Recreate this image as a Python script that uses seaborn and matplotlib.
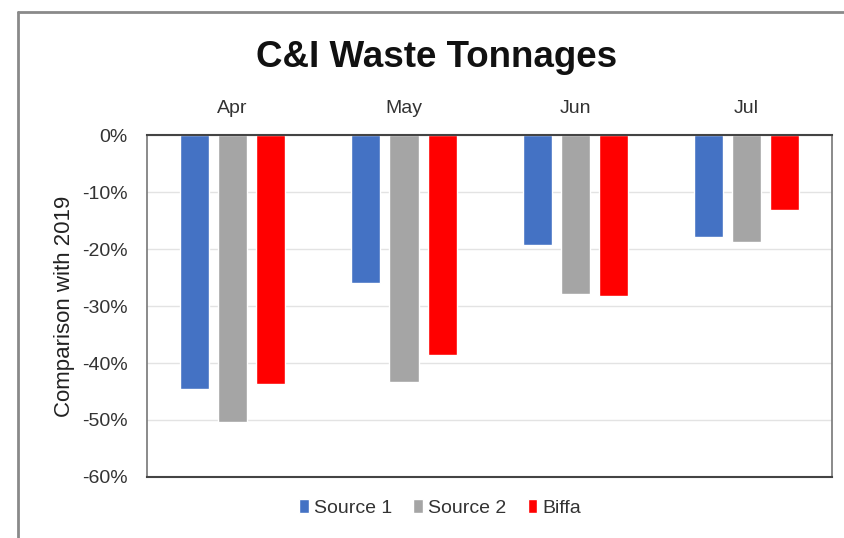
import matplotlib
matplotlib.use("Agg")
import matplotlib.pyplot as plt
from matplotlib.lines import Line2D
from matplotlib.ticker import FuncFormatter
import seaborn as sns
import pandas as pd

months = ["Apr", "May", "Jun", "Jul"]
sources = ["Source 1", "Source 2", "Biffa"]
source1 = [-44.5, -25.9, -19.3, -17.9]
source2 = [-50.3, -43.3, -27.9, -18.8]
biffa = [-43.7, -38.6, -28.3, -13.2]
colors = ["#4472C4", "#A5A5A5", "#FF0000"]

df = pd.DataFrame({
    "month": months * 3,
    "source": [s for s in sources for _ in months],
    "value": source1 + source2 + biffa,
})

sns.set_style("white")
plt.rcParams["font.family"] = ["Liberation Sans", "DejaVu Sans"]

fig = plt.figure(figsize=(8.45, 5.38), dpi=100)
ax = fig.add_axes([0.174, 0.1134, 0.811, 0.6356])

sns.barplot(data=df, x="month", y="value", hue="source", order=months,
            hue_order=sources, palette=colors, width=0.67, gap=0.24,
            saturation=1, ax=ax, legend=True)

ax.set_ylim(-60, 0)
ax.set_yticks(range(-60, 1, 10))
ax.yaxis.set_major_formatter(FuncFormatter(lambda v, p: "%d%%" % v))
ax.grid(axis="y", color="#e3e3e3", linewidth=1)
ax.set_axisbelow(True)
ax.xaxis.tick_top()
ax.tick_params(axis="x", length=0, pad=13, labelsize=14, labelcolor="#333333")
ax.tick_params(axis="y", length=0, pad=14, labelsize=14, labelcolor="#333333")
ax.set_xlabel("")
ax.set_ylabel("Comparison with 2019", fontsize=16, color="#222222", labelpad=5)

for side in ["left", "right"]:
    ax.spines[side].set_color("#777777")
    ax.spines[side].set_linewidth(1.2)
for side in ["top", "bottom"]:
    ax.spines[side].set_color("#444444")
    ax.spines[side].set_linewidth(1.5)

handles, labels = ax.get_legend_handles_labels()
ax.get_legend().remove()
fig.legend(handles, labels, loc="center", bbox_to_anchor=(440 / 845, 1 - 508 / 538),
           ncol=3, frameon=False, fontsize=14, handlelength=0.5, handleheight=0.7,
           handletextpad=0.25, columnspacing=1.1, labelcolor="#333333")

fig.text(437 / 845, 1 - 67 / 538, "C&I Waste Tonnages", ha="center", va="baseline",
         fontsize=26.5, fontweight="bold", color="#111111")

fig.add_artist(Line2D([18 / 845, 18 / 845], [0, 1 - 12 / 538], transform=fig.transFigure,
                      color="#8a8a8a", linewidth=2))
fig.add_artist(Line2D([18 / 845, 1], [1 - 12 / 538, 1 - 12 / 538], transform=fig.transFigure,
                      color="#8a8a8a", linewidth=2))

fig.savefig("out.png", dpi=100)
